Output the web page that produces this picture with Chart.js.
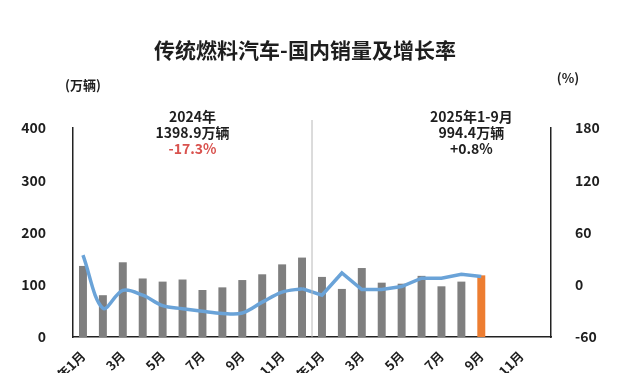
<!DOCTYPE html>
<html>
<head>
<meta charset="utf-8">
<script src="https://cdn.jsdelivr.net/npm/chart.js@4"></script>
<style>
  html, body { margin: 0; padding: 0; background: #fff; }
  #wrap { width: 620px; height: 373px; }
</style>
</head>
<body>
<div id="wrap"><canvas id="grafica" width="620" height="373"></canvas></div>
<script>
// meses: 2024年1月 .. 2025年12月
let meses = [];
for (let a of [2024, 2025]) {
    for (let m = 1; m <= 12; m++) meses.push(m === 1 ? a + "年1月" : m + "月");
}

// ventas en 万辆
let ventas2024 = [136, 80, 143, 112, 106, 110, 90, 95, 109, 120, 139, 152];
let ventas2025 = [115, 92, 132, 104, 102, 117, 97, 106, 118];

// crecimiento interanual %
let crec2024 = [34, -27, -6.5, -12, -24, -27.5, -30.5, -33, -32.5, -20, -8.5, -4.5];
let crec2025 = [-12, 13.5, -5.5, -5.5, -2, 7.5, 7.5, 12, 9.5];

let ticksIzq = [0, 100, 200, 300, 400];
let ticksDer = [-60, 0, 60, 120, 180];

const fuente = '"Noto Sans CJK SC", "Noto Sans", sans-serif';

let ventas = ventas2024.concat(ventas2025);
let coloresBarra = ventas.map((v, i) => i === ventas.length - 1 ? '#ed7d31' : '#7f7f7f');

// linea 2024 suave, 2025 recta (empieza en dic 2024 para unir)
let linea2024 = crec2024.concat(new Array(ventas2025.length).fill(null));
let linea2025 = new Array(11).fill(null).concat([crec2024[11]], crec2025);

const textos = {
    id: 'textos',
    beforeDraw(chart) {
        const ctx = chart.ctx;
        ctx.save();
        ctx.fillStyle = '#fff';
        ctx.fillRect(0, 0, chart.width, chart.height);
        ctx.restore();
    },
    afterDatasetsDraw(chart) {
        const ctx = chart.ctx;
        const x = chart.scales.x;
        const area = chart.chartArea;
        ctx.save();
        // separador 2024 / 2025
        let xs = (x.getPixelForValue(11) + x.getPixelForValue(12)) / 2;
        ctx.strokeStyle = '#b8b8b8';
        ctx.lineWidth = 1;
        ctx.beginPath();
        ctx.moveTo(xs, 120);
        ctx.lineTo(xs, area.bottom);
        ctx.stroke();

        ctx.textAlign = 'center';
        ctx.textBaseline = 'middle';
        ctx.fillStyle = '#1e1e1e';
        ctx.font = 'bold 21px ' + fuente;
        ctx.fillText('传统燃料汽车-国内销量及增长率', 305, 50);

        ctx.font = 'bold 13px ' + fuente;
        ctx.fillText('(万辆)', 83, 85);
        ctx.fillText('(%)', 568, 78);

        ctx.font = 'bold 14px ' + fuente;
        let x1 = x.getPixelForValue(5.5);
        ctx.fillText('2024年', x1, 117);
        ctx.fillText('1398.9万辆', x1, 133);
        ctx.fillStyle = '#d9534f';
        ctx.fillText('-17.3%', x1, 149);

        let x2 = x.getPixelForValue(19.5);
        ctx.fillStyle = '#1e1e1e';
        ctx.fillText('2025年1-9月', x2, 117);
        ctx.fillText('994.4万辆', x2, 133);
        ctx.fillText('+0.8%', x2, 149);
        ctx.restore();
    }
};

const ctx = document.getElementById('grafica').getContext('2d');
new Chart(ctx, {
    type: 'bar',
    data: {
        labels: meses,
        datasets: [
            {
                type: 'line',
                label: '增长率2024',
                data: linea2024,
                yAxisID: 'y2',
                borderColor: '#6aa3d8',
                borderWidth: 3.5,
                pointRadius: 0,
                tension: 0.35,
                spanGaps: false,
                order: 1
            },
            {
                type: 'line',
                label: '增长率2025',
                data: linea2025,
                yAxisID: 'y2',
                borderColor: '#6aa3d8',
                borderWidth: 3.5,
                pointRadius: 0,
                tension: 0,
                order: 1
            },
            {
                label: '销量',
                data: ventas,
                yAxisID: 'y',
                backgroundColor: coloresBarra,
                categoryPercentage: 1,
                barPercentage: 0.4,
                order: 2
            }
        ]
    },
    options: {
        responsive: false,
        animation: false,
        layout: { padding: { top: 128, left: 0, right: 0, bottom: 0 } },
        plugins: {
            legend: { display: false },
            title: { display: false },
            tooltip: { enabled: false }
        },
        scales: {
            x: {
                grid: { display: false },
                border: { display: true, color: '#222', width: 1.5 },
                afterFit(s) { s.height = 36; },
                ticks: {
                    autoSkip: false,
                    maxRotation: 45,
                    minRotation: 45,
                    padding: 3,
                    color: '#1e1e1e',
                    font: { family: fuente, size: 13, weight: 'bold' },
                    callback: function (v, i) { return i % 2 === 0 ? meses[i] : ''; }
                }
            },
            y: {
                position: 'left',
                min: 0,
                max: 400,
                grid: { display: false },
                border: { display: true, color: '#222', width: 1.5 },
                afterFit(s) { s.width = 73; },
                afterBuildTicks(s) { s.ticks = ticksIzq.map(v => ({ value: v })); },
                ticks: {
                    padding: 19,
                    color: '#1e1e1e',
                    font: { family: fuente, size: 14, weight: 'bold' }
                }
            },
            y2: {
                position: 'right',
                min: -60,
                max: 180,
                grid: { display: false },
                border: { display: true, color: '#222', width: 1.5 },
                afterFit(s) { s.width = 69; },
                afterBuildTicks(s) { s.ticks = ticksDer.map(v => ({ value: v })); },
                ticks: {
                    padding: 16,
                    color: '#1e1e1e',
                    font: { family: fuente, size: 14, weight: 'bold' }
                }
            }
        }
    },
    plugins: [textos]
});
</script>
</body>
</html>
